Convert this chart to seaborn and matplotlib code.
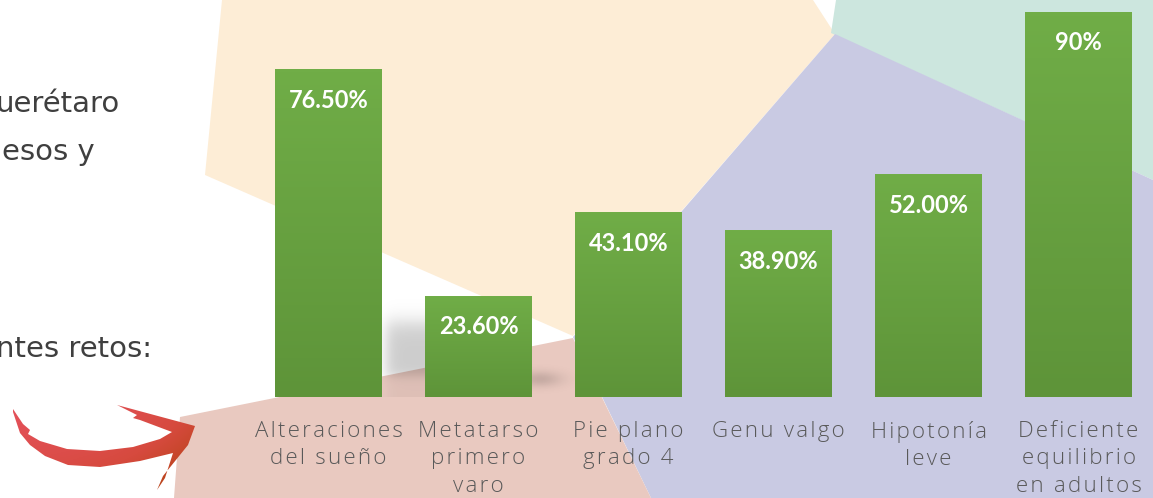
import numpy as np
import pandas as pd
import seaborn as sns
from matplotlib import pyplot as plt
from matplotlib.colors import LinearSegmentedColormap
from matplotlib.patches import Polygon

W, H = 1153, 498

CATEGORIES = ['Alteraciones\ndel sueño', 'Metatarso\nprimero\nvaro', 'Pie plano\ngrado 4',
              'Genu valgo', 'Hipotonía\nleve', 'Deficiente\nequilibrio\nen adultos']
VALUES = [76.5, 23.6, 43.1, 38.9, 52.0, 90.0]
VALUE_LABELS = ['76.50%', '23.60%', '43.10%', '38.90%', '52.00%', '90%']
SIDE_TEXT = ['uerétaro', 'esos y', 'ntes retos:']

PEACH = '#FDEDD6'
MINT = '#CCE6DE'
LAVENDER = '#C9CAE3'
PINK = '#E9C9C0'
GREEN_TOP = '#70AD47'
GREEN_BOTTOM = '#5E9439'

sns.set_style('white')
plt.rcParams['font.family'] = ['Open Sans', 'DejaVu Sans']

fig = plt.figure(figsize=(W / 100, H / 100), dpi=100)
fig.patch.set_facecolor('white')

# slide background, pixel coords (y down)
bg = fig.add_axes([0, 0, 1, 1], zorder=0)

shapes = [
    (PEACH, [(222, 0), (205, 175), (573, 336), (835, 34), (813, 0)]),
    (MINT, [(836, 0), (831, 33), (1153, 180), (1153, 0)]),
    (LAVENDER, [(835, 34), (573, 337), (651, 498), (1153, 498), (1153, 180)]),
    (PINK, [(180, 417), (573, 338), (651, 498), (174, 498)]),
]
for col, pts in shapes:
    bg.add_patch(Polygon(pts, closed=True, facecolor=col, edgecolor='none'))

# soft shadows around the short bar
sx = np.linspace(370, 432, 80)
sy = np.linspace(298, 397, 120)
xx, yy = np.meshgrid(sx, sy)
a = 0.2 / (1 + np.exp(-(yy - 322) / 6)) / (1 + np.exp(-(xx - 386) / 4))
a *= 1 - 0.75 / (1 + np.exp(-(yy - 376) / 3))
shadow = np.zeros(xx.shape + (4,))
shadow[..., 3] = a
bg.imshow(shadow, extent=[sx[0], sx[-1], sy[-1], sy[0]], zorder=2, interpolation='bilinear')

ex = np.linspace(510, 585, 100)
ey = np.linspace(360, 400, 60)
xx, yy = np.meshgrid(ex, ey)
a = 0.15 * np.exp(-((xx - 540) / 22) ** 2 - ((yy - 379) / 8) ** 2)
blob = np.zeros(xx.shape + (4,))
blob[..., 3] = a
bg.imshow(blob, extent=[ex[0], ex[-1], ey[-1], ey[0]], zorder=2, interpolation='bilinear')

# curved arrow
arrow_pts = [(13, 409), (23, 424), (30, 430), (28, 434), (40, 441), (67, 449), (100, 451),
             (133, 447), (160, 439), (172, 432), (140, 420), (133, 418), (137, 415),
             (117, 405), (195, 426), (188, 445), (163, 476), (157, 490), (165, 478),
             (173, 453), (140, 461), (100, 467), (68, 465), (45, 456), (30, 445),
             (20, 433), (13, 412)]
arrow = Polygon(arrow_pts, closed=True, facecolor='none', edgecolor='none')
bg.add_patch(arrow)
gx, gy = np.meshgrid(np.linspace(0, 1, 100), np.linspace(0, 1, 100))
grad = np.clip(0.55 * gx ** 2 + 0.6 * gy ** 1.5, 0, 1)
arrow_cmap = LinearSegmentedColormap.from_list('arr', ['#E4515A', '#D64A3E', '#B0410E'])
im = bg.imshow(grad, extent=[10, 200, 495, 400], cmap=arrow_cmap, zorder=3,
               interpolation='bilinear')
im.set_clip_path(arrow)

bg.set_xlim(0, W)
bg.set_ylim(H, 0)
bg.axis('off')

# slide text cut off by the left edge
for txt, (xr, yc) in zip(SIDE_TEXT, [(120, 104), (95, 152), (152, 349)]):
    bg.text(xr, yc, txt, ha='right', va='center', fontsize=21, color='#3F3F3F',
            family=['DejaVu Sans'])

# chart
ax = fig.add_axes([253.5 / W, 101 / H, 900 / W, 385 / H], zorder=1)
ax.patch.set_alpha(0)
df = pd.DataFrame({'cat': CATEGORIES, 'val': VALUES})
sns.barplot(data=df, x='cat', y='val', ax=ax, color=GREEN_TOP, width=0.713, saturation=1)

bar_cmap = LinearSegmentedColormap.from_list('bar', [GREEN_TOP, GREEN_BOTTOM])
vgrad = np.linspace(0, 1, 100).reshape(-1, 1)
for p, lab in zip(ax.patches, VALUE_LABELS):
    x0, w, h = p.get_x(), p.get_width(), p.get_height()
    ax.imshow(vgrad, extent=[x0, x0 + w, 0, h], cmap=bar_cmap, aspect='auto', zorder=2)
    p.set_visible(False)
    ax.annotate(lab, (x0 + w / 2, h), xytext=(0, -22), textcoords='offset points',
                ha='center', va='center', color='white', fontsize=17, fontweight='bold',
                family=['Lato', 'DejaVu Sans'], zorder=3)

ax.set_xlim(-0.5, 5.5)
ax.set_ylim(0, 90)
ax.set_xlabel('')
ax.set_ylabel('')
ax.set_yticks([])
sns.despine(ax=ax, left=True, bottom=True)
ax.tick_params(axis='x', length=0, pad=17)
# spaced-out lettering like the slide font
spaced = ['\n'.join('\u200a'.join(line) for line in c.split('\n')) for c in CATEGORIES]
ax.set_xticks(range(len(CATEGORIES)))
ax.set_xticklabels(spaced, fontsize=16, fontweight='light', color='#595959',
                   linespacing=1.42, va='top')

fig.savefig('out.png', dpi=100)
